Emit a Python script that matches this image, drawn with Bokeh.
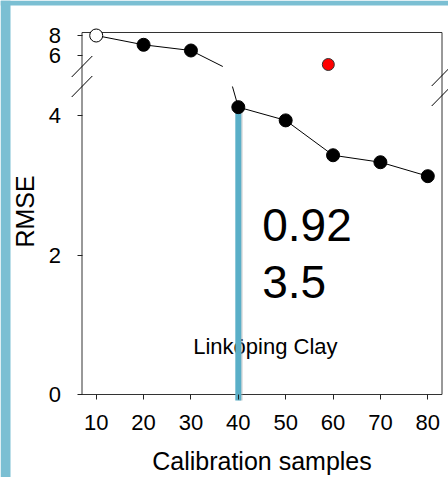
import math
from bokeh.plotting import figure
from bokeh.models import Range1d, FixedTicker, GlobalInlineStyleSheet, BoxAnnotation
from bokeh.core.properties import value
from bokeh.embed import file_html
from bokeh.resources import INLINE

# ---------------- data ----------------
samples = [10, 20, 30, 40, 50, 60, 70, 80]
rmse = [8.0, 7.07, 6.5, 4.12, 3.93, 3.43, 3.33, 3.13]
open_marker = [True, False, False, False, False, False, False, False]
red_x = [59]
red_y = [5.1]
x_ticks = [10, 20, 30, 40, 50, 60, 70, 80]
y_ticks_lower = [0, 2, 4]
y_ticks_upper = [6, 8]
highlight_sample = 40
stat_lines = ["0.92", "3.5"]
site_name = "Linköping Clay"
x_title = "Calibration samples"
y_title = "RMSE"

# ---------------- layout (canvas pixels) ----------------
W, H = 448, 477
BOX_L, BOX_R, BOX_T, BOX_B = 81.5, 441.5, 32.0, 394.0   # visible plot box
X_LEFT, X_RIGHT = 7.0, 83.0          # x values at the box sides
LOWER_PX = 69.75                     # px per RMSE unit (lower panel)
UPPER_PX = 10.0                      # px per RMSE unit (upper panel)
UPPER_REF_V, UPPER_REF_PX = 8.0, 35.0
UPPER_GAP_PX, LOWER_GAP_PX = 66.0, 86.0   # break edges
BASE_SHIFT = 0.4                     # text baseline correction (em)

XPX = (BOX_R - BOX_L) / (X_RIGHT - X_LEFT)


def px_x(px):
    return X_LEFT + (px - BOX_L) / XPX


def px_y(py):   # pixel (from top) -> lower-panel value
    return (BOX_B - py) / LOWER_PX


def px_yu(py):  # pixel (from top) -> upper-panel value
    return UPPER_REF_V + (UPPER_REF_PX - py) / UPPER_PX


def base_y(py, size):   # alphabetic baseline at pixel py for font size
    return px_y(py - BASE_SHIFT * size)


def upper_to_lower(v):
    py = UPPER_REF_PX + (UPPER_REF_V - v) * UPPER_PX
    return round(px_y(py), 6)


UPPER_BREAK = px_yu(UPPER_GAP_PX)
LOWER_BREAK = px_y(LOWER_GAP_PX)
LOWER_TOP = px_y(BOX_T)

FONT = "Liberation Sans"
BLUE_FRAME = "#7BBFD3"
BLUE_LINE = "#5AAFC8"

p = figure(width=W, height=H, title=None,
           x_range=Range1d(px_x(0), px_x(W)),
           y_range=Range1d(px_y(H), px_y(0)), output_backend="svg",
           toolbar_location=None, min_border=0)
p.stylesheets = [GlobalInlineStyleSheet(
    css="html, body { overflow: hidden !important; margin: 0; }")]
p.extra_y_ranges = {"upper": Range1d(px_yu(H), px_yu(0))}
p.background_fill_color = "white"
p.border_fill_color = "white"
p.outline_line_color = None
p.xgrid.visible = False
p.ygrid.visible = False

# page decoration (blue bands at left and top)
p.add_layout(BoxAnnotation(right=px_x(10), fill_color=BLUE_FRAME, fill_alpha=1.0,
                           line_color=None, level="underlay"))
p.add_layout(BoxAnnotation(bottom=px_y(5), fill_color=BLUE_FRAME, fill_alpha=1.0,
                           line_color=None, level="underlay"))

# axes fixed onto the plot box
p.xaxis.fixed_location = 0
p.yaxis.fixed_location = X_LEFT
p.xaxis.ticker = FixedTicker(ticks=x_ticks)
ytick_pos = list(y_ticks_lower) + [upper_to_lower(v) for v in y_ticks_upper]
overrides = {float(v): str(v) for v in y_ticks_lower}
overrides.update({upper_to_lower(v): str(v) for v in y_ticks_upper})
p.yaxis.ticker = FixedTicker(ticks=ytick_pos)
p.yaxis.major_label_overrides = overrides
for ax in (p.xaxis, p.yaxis):
    ax.axis_line_color = None
    ax.major_tick_out = 5
    ax.major_tick_in = 0
    ax.minor_tick_out = 0
    ax.minor_tick_in = 0
    ax.major_tick_line_color = "#222222"
    ax.major_label_text_font = FONT
    ax.major_label_text_font_size = "22px"
    ax.major_label_text_color = "black"
p.xaxis.major_label_standoff = 15
p.yaxis.major_label_standoff = 16

# plot box
p.line([X_LEFT, X_RIGHT, X_RIGHT, X_LEFT, X_LEFT],
       [0, 0, LOWER_TOP, LOWER_TOP, 0], line_color="#333333", line_width=1)

# axis titles
p.text(x=[(X_LEFT + X_RIGHT) / 2], y=[base_y(470, 25)], text=[x_title],
       text_font=value(FONT), text_font_size="25px", text_color="black",
       text_align="center", text_baseline="alphabetic")
p.text(x=[px_x(24)], y=[px_y(211)], text=[y_title], angle=math.pi / 2,
       text_font=value(FONT), text_font_size="25px", text_color="black",
       text_align="center", text_baseline="middle")

# texts inside the plot
p.text(x=[px_x(261.7)] * 2, y=[base_y(243.3, 46), base_y(300.3, 46)],
       text=stat_lines, text_font=value(FONT), text_font_size="46px",
       text_color="black", text_baseline="alphabetic", text_align="left")
p.text(x=[px_x(192.7)], y=[base_y(355, 22)], text=[site_name],
       text_font=value(FONT), text_font_size="22px", text_color="black",
       text_baseline="alphabetic", text_align="left")

# split the series into upper and lower panels
in_upper = [v >= UPPER_BREAK for v in rmse]
up_x = [x for x, u in zip(samples, in_upper) if u]
up_y = [y for y, u in zip(rmse, in_upper) if u]
lo_x = [x for x, u in zip(samples, in_upper) if not u]
lo_y = [y for y, u in zip(rmse, in_upper) if not u]
k = len(up_x)
x0, y0, x1, y1 = samples[k - 1], rmse[k - 1], samples[k], rmse[k]
x_cut_up = x0 + (y0 - UPPER_BREAK) / (y0 - y1) * (x1 - x0)
x_cut_lo = x0 + (y0 - LOWER_BREAK) / (y0 - y1) * (x1 - x0)

p.line(up_x + [x_cut_up], up_y + [UPPER_BREAK], y_range_name="upper",
       line_color="black", line_width=1)
p.line([x_cut_lo] + lo_x, [LOWER_BREAK] + lo_y,
       line_color="black", line_width=1)

# highlight line
hi_y = rmse[samples.index(highlight_sample)]
hl_bottom = px_y(400)
p.segment(x0=[highlight_sample + 0.4], y0=[hi_y], x1=[highlight_sample + 0.4],
          y1=[hl_bottom], line_color="#aaaaaa", line_width=5, line_alpha=0.45)
p.segment(x0=[highlight_sample], y0=[hi_y], x1=[highlight_sample], y1=[hl_bottom],
          line_color=BLUE_LINE, line_width=6)

# markers
up_fill = ["white" if o else "black" for o, u in zip(open_marker, in_upper) if u]
lo_fill = ["white" if o else "black" for o, u in zip(open_marker, in_upper) if not u]
p.scatter(up_x, up_y, y_range_name="upper", size=13, fill_color=up_fill,
          line_color="black", line_width=1)
p.scatter(lo_x, lo_y, size=13, fill_color=lo_fill, line_color="black", line_width=1)
p.scatter(red_x, red_y, y_range_name="upper", size=12, fill_color="red",
          line_color="#333333", line_width=1)

# break marks (left side at the break edges, right side slightly lower)
DX = px_x(BOX_L + 10.3) - X_LEFT
DY = 10.5 / LOWER_PX
bx0, bx1, by0, by1 = [], [], [], []
for xc, shift_px in ((X_LEFT, 0.0), (X_RIGHT, 9.0)):
    for py in (UPPER_GAP_PX, LOWER_GAP_PX):
        yc = px_y(py + shift_px)
        bx0.append(xc - DX)
        bx1.append(xc + DX)
        by0.append(yc - DY)
        by1.append(yc + DY)
p.segment(x0=bx0, y0=by0, x1=bx1, y1=by1, line_color="black", line_width=1)

open("out.html", "w").write(file_html(p, INLINE))
